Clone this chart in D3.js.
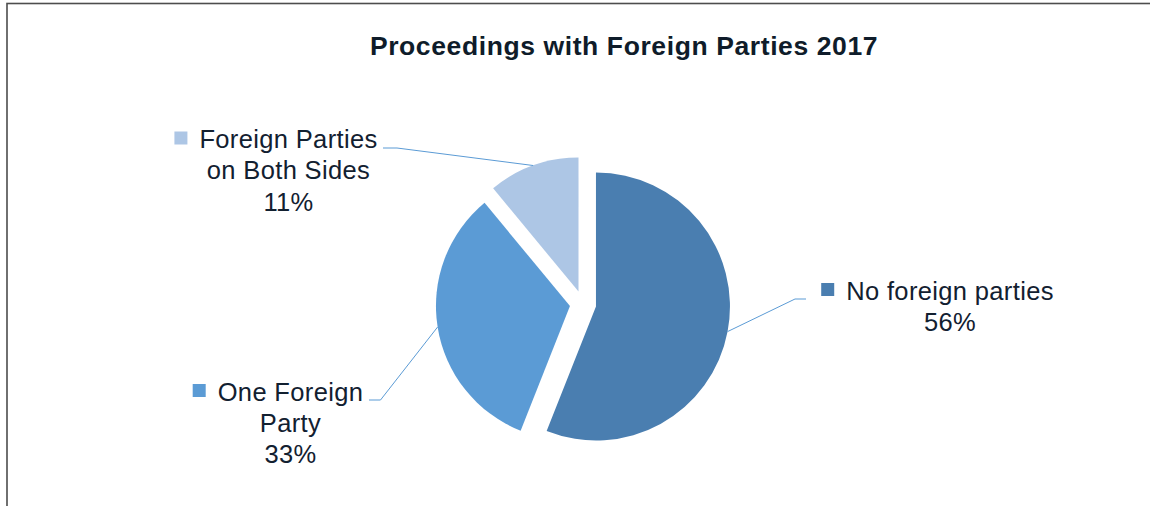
<!DOCTYPE html>
<html lang="en">
<head>
  <meta charset="UTF-8">
  <title>Proceedings with Foreign Parties 2017</title>
  <script src="https://cdnjs.cloudflare.com/ajax/libs/d3/7.8.5/d3.min.js"></script>
  <style>
    body {
      margin: 0;
      background: white;
    }
    svg {
      display: block;
      font-family: "Liberation Sans", Arial, sans-serif;
    }
  </style>
</head>
<body>
  <script>
    // data
    var categories = ["No foreign parties", "One Foreign Party", "Foreign Parties on Both Sides"];
    var values = [56, 33, 11];
    var percentLabels = ["56%", "33%", "11%"];
    var labelLines = [["No foreign parties"], ["One Foreign", "Party"], ["Foreign Parties", "on Both Sides"]];
    var colors = ["#4a7eb0", "#5b9bd5", "#adc6e5"];

    // layout
    var w = 1150;
    var h = 506;
    var cx = 583;
    var cy = 304;
    var radius = 134;
    var explode = 13.2;
    var lineHeight = 31.3;
    // label text centre x, first baseline y, leader elbow and end points
    var labelPos = [
      {x: 950, y: 299.5, elbow: [795, 299], end: [806, 299]},
      {x: 290.5, y: 400.5, elbow: [380.5, 400], end: [369, 400]},
      {x: 288.5, y: 148, elbow: [397, 148], end: [383, 148]}
    ];

    var svg = d3.select("body").append("svg")
      .attr("width", w)
      .attr("height", h);

    // outer frame
    svg.append("rect")
      .attr("x", 7)
      .attr("y", 3.5)
      .attr("width", 1400)
      .attr("height", 700)
      .attr("fill", "none")
      .attr("stroke", "#4d4d4d")
      .attr("stroke-width", 1.6);

    svg.append("text")
      .attr("x", 624)
      .attr("y", 54.5)
      .attr("text-anchor", "middle")
      .attr("font-size", "26.5px")
      .attr("font-weight", "bold")
      .attr("letter-spacing", "0.6px")
      .attr("fill", "#0f1c2a")
      .text("Proceedings with Foreign Parties 2017");

    var pie = d3.pie()
      .sort(null)
      .value(function(d) { return d; });

    var arcs = pie(values);

    var arc = d3.arc()
      .innerRadius(0)
      .outerRadius(radius);

    function offset(d) {
      var mid = (d.startAngle + d.endAngle) / 2;
      return [Math.sin(mid) * explode, -Math.cos(mid) * explode];
    }

    var g = svg.append("g")
      .attr("transform", "translate(" + cx + "," + cy + ")");

    g.selectAll("path.slice")
      .data(arcs)
      .enter()
      .append("path")
      .attr("class", "slice")
      .attr("transform", function(d) {
        var o = offset(d);
        return "translate(" + o[0] + "," + o[1] + ")";
      })
      .attr("d", arc)
      .attr("fill", function(d, i) { return colors[i]; });

    // leader lines
    g.selectAll("polyline")
      .data(arcs)
      .enter()
      .append("polyline")
      .attr("fill", "none")
      .attr("stroke", "#5b9bd5")
      .attr("stroke-width", 1)
      .attr("points", function(d, i) {
        var o = offset(d);
        var mid = (d.startAngle + d.endAngle) / 2;
        var start = [o[0] + Math.sin(mid) * radius, o[1] - Math.cos(mid) * radius];
        var p = labelPos[i];
        return [start,
          [p.elbow[0] - cx, p.elbow[1] - cy],
          [p.end[0] - cx, p.end[1] - cy]].join(" ");
      });

    // labels
    labelLines.forEach(function(lines, i) {
      var p = labelPos[i];
      var allLines = lines.concat([percentLabels[i]]);
      var first = null;
      allLines.forEach(function(t, j) {
        var txt = svg.append("text")
          .attr("x", p.x)
          .attr("y", p.y + j * lineHeight)
          .attr("text-anchor", "middle")
          .attr("font-size", "25.5px")
          .attr("letter-spacing", "0.35px")
          .attr("fill", "#122030")
          .text(t);
        if (j === 0) first = txt;
      });
      var tw = first.node().getComputedTextLength();
      svg.append("rect")
        .attr("x", p.x - tw / 2 - 12 - 13)
        .attr("y", p.y - 16.5)
        .attr("width", 13)
        .attr("height", 13)
        .attr("fill", colors[i]);
    });
  </script>
</body>
</html>
